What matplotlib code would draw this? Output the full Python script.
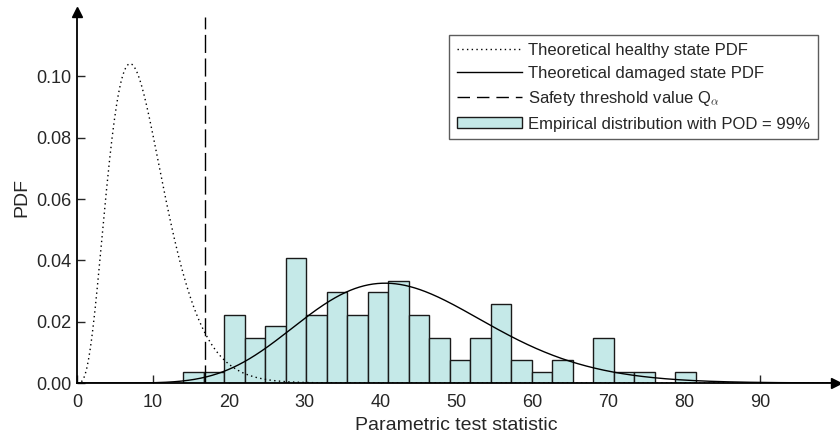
import math
import numpy as np
import matplotlib
matplotlib.use("Agg")
import matplotlib.pyplot as plt
from matplotlib.patches import Patch
from matplotlib.lines import Line2D

plt.rcParams["font.family"] = ["Liberation Sans", "DejaVu Sans"]
plt.rcParams["mathtext.fontset"] = "cm"

# empirical distribution (counts per bin)
bin_start = 14.0
bin_width = 2.7
counts = [1, 1, 6, 4, 5, 11, 6, 8, 6, 8, 9, 6, 4, 2, 4, 7, 2, 1, 2, 0, 4, 1, 1, 0, 1]
n_samples = 100

# theoretical distributions
dof = 9                # chi-square degrees of freedom (healthy state)
noncentrality = 34.5   # non-central chi-square (damaged state)
q_alpha = 16.92        # 95% quantile of chi2(9)

x_ticks = [0, 10, 20, 30, 40, 50, 60, 70, 80, 90]
y_ticks = [0.0, 0.02, 0.04, 0.06, 0.08, 0.10]

INK = "#262626"
BAR_COLOR = "#c5e9e8"


def chi2_pdf(x, k):
    x = np.asarray(x, dtype=float)
    out = np.zeros_like(x)
    m = x > 0
    out[m] = np.exp((k / 2 - 1) * np.log(x[m]) - x[m] / 2
                    - (k / 2) * math.log(2) - math.lgamma(k / 2))
    return out


def ncx2_pdf(x, k, lam, terms=120):
    total = np.zeros_like(np.asarray(x, dtype=float))
    for j in range(terms):
        w = math.exp(-lam / 2 + j * math.log(lam / 2) - math.lgamma(j + 1))
        total += w * chi2_pdf(x, k + 2 * j)
    return total


xs = np.linspace(0, 100, 1001)
healthy = chi2_pdf(xs, dof)
damaged = ncx2_pdf(xs, dof, noncentrality)

density = np.array(counts) / (n_samples * bin_width)
lefts = bin_start + bin_width * np.arange(len(counts))

fig = plt.figure(figsize=(8.4, 4.36), dpi=100)
ax = fig.add_axes([77 / 840, 1 - 383 / 436, 759 / 840, 371 / 436])

ax.bar(lefts, density, width=bin_width, align="edge", color=BAR_COLOR,
       edgecolor="#1a1a1a", linewidth=1.0, zorder=2)
ax.plot(xs, healthy, color="black", linewidth=1.0, dashes=(1, 2.4), zorder=3)
ax.plot(xs, damaged, color="black", linewidth=1.0, zorder=3)
ax.plot([q_alpha, q_alpha], [0, 0.1195], color="black", linewidth=1.0,
        dashes=(13, 4), zorder=3)

ax.set_xlim(0, 100)
ax.set_ylim(0, 0.121)
ax.set_xticks(x_ticks)
ax.set_yticks(y_ticks)
ax.set_yticklabels([f"{v:.2f}" for v in y_ticks])
ax.tick_params(direction="in", length=5.5, width=1, colors=INK, labelsize=13)
ax.tick_params(axis="x", pad=8)
ax.tick_params(axis="y", pad=4)
for side in ("top", "right"):
    ax.spines[side].set_visible(False)
for side in ("left", "bottom"):
    ax.spines[side].set_linewidth(1.3)
    ax.spines[side].set_color("black")

# arrow heads on the axes
ax.plot(1, 0, ">", color="black", markersize=7, transform=ax.get_yaxis_transform(),
        clip_on=False, zorder=5)
ax.plot(0, 1, "^", color="black", markersize=7, transform=ax.get_xaxis_transform(),
        clip_on=False, zorder=5)

ax.set_xlabel("Parametric test statistic", fontsize=14, color=INK, labelpad=4)
ax.set_ylabel("PDF", fontsize=14, color=INK, labelpad=4)

handles = [
    Line2D([], [], color="black", linewidth=1.0, dashes=(1, 2.4)),
    Line2D([], [], color="black", linewidth=1.0),
    Line2D([], [], color="black", linewidth=1.0, dashes=(9, 5)),
    Patch(facecolor=BAR_COLOR, edgecolor="#1a1a1a", linewidth=1.0),
]
labels = [
    "Theoretical healthy state PDF",
    "Theoretical damaged state PDF",
    r"Safety threshold value Q$_{\alpha}$",
    "Empirical distribution with POD = 99%",
]
leg = ax.legend(handles, labels, loc="upper right", bbox_to_anchor=(818 / 840, 401 / 436),
                bbox_transform=fig.transFigure, fontsize=12, frameon=True,
                fancybox=False, edgecolor="#333333", handlelength=3.9,
                handletextpad=0.4, borderpad=0.45, labelspacing=0.5,
                borderaxespad=0)
leg.get_frame().set_linewidth(1.0)
for t in leg.get_texts():
    t.set_color(INK)

fig.savefig("out.png", dpi=100)
